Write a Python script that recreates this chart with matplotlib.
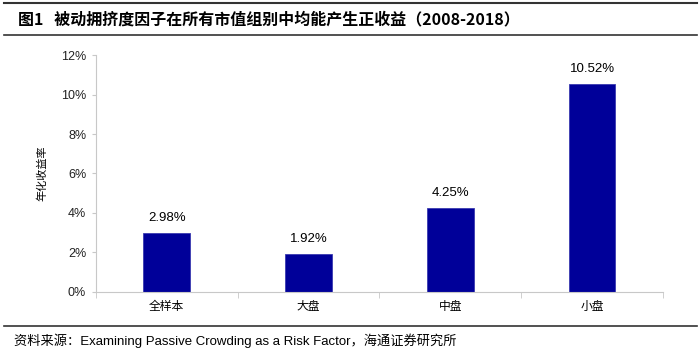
import matplotlib
matplotlib.use('Agg')
import matplotlib.pyplot as plt
from matplotlib.lines import Line2D
from matplotlib.ticker import FuncFormatter

plt.rcParams['font.family'] = ['Noto Sans CJK SC', 'DejaVu Sans']

# data
categories = ['全样本', '大盘', '中盘', '小盘']
returns = [2.98, 1.92, 4.25, 10.52]
yticks = [0, 2, 4, 6, 8, 10, 12]

fig = plt.figure(figsize=(7, 3.53), dpi=100)
ax = fig.add_axes([0.137, 0.173, 0.81, 0.671])

x = range(len(categories))
ax.bar(x, returns, width=0.33, color='#000099', edgecolor='#3a3ab0', linewidth=0.6)

for xi, v in zip(x, returns):
    ax.text(xi, v + 0.45, '%.2f%%' % v, ha='center', va='bottom',
            fontsize=9.5, family=['Liberation Sans', 'DejaVu Sans'])

ax.set_xlim(-0.5, len(categories) - 0.5)
ax.set_ylim(0, 12)
ax.set_yticks(yticks)
ax.yaxis.set_major_formatter(FuncFormatter(lambda v, p: '%d%%' % v))
for lab in ax.get_yticklabels():
    lab.set_family(['Liberation Sans', 'DejaVu Sans'])
    lab.set_fontsize(9)
    lab.set_color('#222222')

ax.set_xticks([i for i in x])
ax.set_xticklabels(categories, fontsize=8.5)
# category boundary ticks
ax.set_xticks([i + 0.5 for i in range(-1, len(categories))], minor=True)
ax.tick_params(axis='x', which='major', length=0, pad=6)
ax.tick_params(axis='x', which='minor', length=4, color='#c8c8c8', direction='out')
ax.tick_params(axis='y', length=3, color='#c8c8c8', pad=4)

for s in ['top', 'right']:
    ax.spines[s].set_visible(False)
ax.spines['left'].set_color('#c8c8c8')
ax.spines['bottom'].set_color('#c8c8c8')

ax.set_ylabel('年化收益率', fontsize=8, labelpad=10)

# header and footer
fig.text(0.026, 0.945, '图1   被动拥挤度因子在所有市值组别中均能产生正收益（2008-2018）',
         fontsize=11.5, fontweight='bold', va='center')
fig.add_artist(Line2D([0.005, 0.995], [0.992, 0.992], color='#333333', lw=1.5))
fig.add_artist(Line2D([0.005, 0.995], [0.9, 0.9], color='#333333', lw=1.2))
fig.add_artist(Line2D([0.005, 0.995], [0.077, 0.077], color='#333333', lw=1.2))
fig.text(0.02, 0.035, '资料来源：Examining Passive Crowding as a Risk Factor，海通证券研究所',
         fontsize=9.5, va='center', family=['Liberation Sans', 'Noto Sans CJK SC', 'DejaVu Sans'])

fig.savefig('out.png', dpi=100)
